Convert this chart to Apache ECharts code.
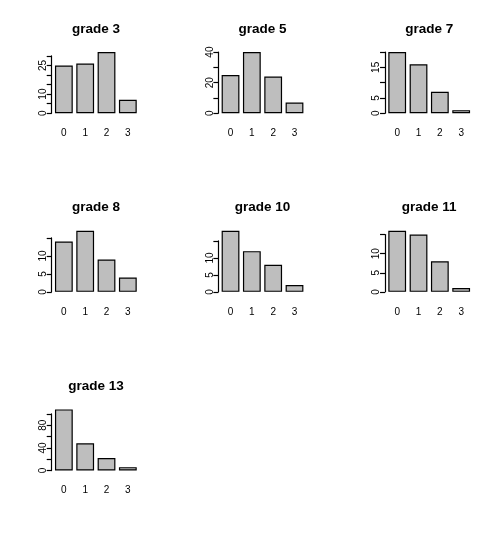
<!DOCTYPE html>
<html>
<head>
<meta charset="utf-8">
<script src="https://cdn.jsdelivr.net/npm/echarts@6/dist/echarts.min.js"></script>
<style>
  html, body {margin: 0; padding: 0; background: #fff;}
  #chart {width: 500px; height: 536px;}
</style>
</head>
<body>
<div id="chart"></div>
<script>
// panels, in the order R fills them (mfrow 3x3)
var titles = ["grade 3", "grade 5", "grade 7", "grade 8", "grade 10", "grade 11", "grade 13"];
var categories = ["0", "1", "2", "3"];

var grade3 = [25, 26, 32, 7];
var grade5 = [25, 40, 24, 7];
var grade7 = [20, 16, 7, 1];
var grade8 = [14, 17, 9, 4];
var grade10 = [18, 12, 8, 2];
var grade11 = [16, 15, 8, 1];
var grade13 = [108, 48, 22, 6];

// y ticks: step, last tick, and the labels R managed to print
var tickStep = [5, 10, 5, 5, 5, 5, 20];
var tickLast = [30, 40, 20, 15, 15, 15, 100];
var tickShown = [[0, 10, 25], [0, 20, 40], [0, 5, 15], [0, 5, 10], [0, 5, 10], [0, 5, 10], [0, 40, 80]];

var seriesData = [grade3, grade5, grade7, grade8, grade10, grade11, grade13];

var cellW = 500 / 3, cellH = 536 / 3;
var plotH = 66;          // height of the plot region (with 4% padding)
var zeroY = 113.2;       // y of the 0 line inside a cell
var font = "Liberation Sans, Arial, sans-serif";

var option = {
    backgroundColor: "#fff",
    animation: false,
    title: [], grid: [], xAxis: [], yAxis: [], series: []
};

for (var i = 0; i < titles.length; i++) {
    var col = i % 3, row = Math.floor(i / 3);
    var data = seriesData[i];
    var maxVal = Math.max.apply(null, data);
    var ppu = plotH / (1.08 * maxVal);
    var y0 = row * cellH + zeroY;
    var gridH = tickLast[i] * ppu;
    var shown = tickShown[i];

    option.title.push({
        text: titles[i],
        left: col * cellW + 95.9,
        top: row * cellH + 22,
        textAlign: "center",
        padding: 0,
        textStyle: {fontFamily: font, fontSize: 13.5, fontWeight: "bold", color: "#000"}
    });
    option.grid.push({
        left: col * cellW + 53.2,
        top: y0 - gridH,
        width: 85.3,
        height: gridH,
        containLabel: false,
        outerBoundsMode: "none"
    });
    option.xAxis.push({
        type: "category",
        gridIndex: i,
        data: categories,
        axisLine: {show: false},
        axisTick: {show: false},
        axisLabel: {margin: 15, fontFamily: font, fontSize: 10, color: "#000"}
    });
    option.yAxis.push({
        type: "value",
        gridIndex: i,
        min: 0,
        max: tickLast[i],
        interval: tickStep[i],
        offset: 1.5,
        splitLine: {show: false},
        axisLine: {show: true, lineStyle: {color: "#000", width: 1.2}},
        axisTick: {show: true, length: 5, lineStyle: {color: "#000", width: 1.2}},
        axisLabel: {
            rotate: 90,
            margin: 3.5,
            fontFamily: font,
            fontSize: 10,
            color: "#000",
            formatter: (function (s) {
                return function (v) { return s.indexOf(v) > -1 ? String(v) : ""; };
            })(shown)
        }
    });
    option.series.push({
        type: "bar",
        xAxisIndex: i,
        yAxisIndex: i,
        data: data,
        clip: false,
        barWidth: 17.8,
        itemStyle: {color: "#bebebe", borderColor: "#000", borderWidth: 1.2}
    });
}

var myChart = echarts.init(document.getElementById("chart"), null, {renderer: "canvas"});
myChart.setOption(option);
</script>
</body>
</html>
